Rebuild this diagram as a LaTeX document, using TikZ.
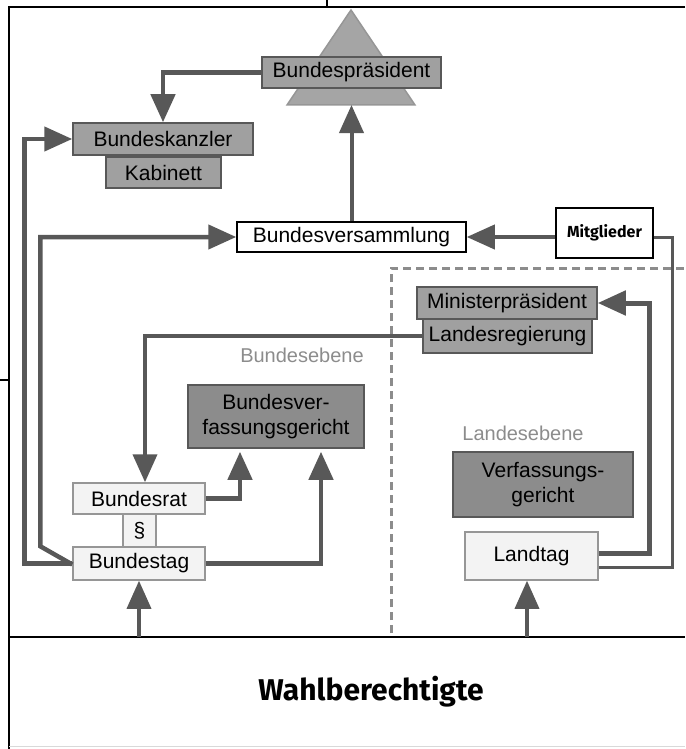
\documentclass[tikz,border=0pt]{standalone}
\usepackage{fontspec}
\setmainfont{Liberation Sans}
\newfontfamily\fira{Fira Sans}
\usetikzlibrary{arrows.meta,positioning,calc}
\definecolor{lineg}{RGB}{88,88,88}
\definecolor{boxg}{RGB}{160,160,160}
\definecolor{courtg}{RGB}{140,140,140}
\definecolor{paleg}{RGB}{243,243,243}
\definecolor{rimg}{RGB}{150,150,150}
\definecolor{levelg}{RGB}{140,140,140}
\definecolor{trig}{RGB}{165,165,165}

\begin{document}
\begin{tikzpicture}[x=1pt,y=-1pt,
    organ/.style={draw=lineg,fill=boxg,line width=1.5pt,inner sep=0pt,
      font=\fontsize{21}{25}\selectfont,align=center},
    court/.style={organ,fill=courtg},
    parl/.style={organ,draw=rimg,fill=paleg},
    plain/.style={organ,draw=black,fill=white},
    arr/.style={draw=lineg,line width=4.5pt,-{Triangle[length=28pt,width=24pt]}},
    link/.style={draw=lineg,line width=3pt},
    level/.style={text=levelg,font=\fontsize{20}{24}\selectfont}]
  \useasboundingbox (0,0) rectangle (685,749);
  % page frame
  \draw[line width=1.5pt] (327,0) -- (327,7);
  \draw[line width=1.5pt] (685,7) -- (9,7) -- (9,749);
  \draw[line width=1.2pt] (0,380) -- (9,380);
  \draw[black!15,line width=1pt] (9,746.5) -- (685,746.5);
  \draw[line width=2pt] (9,637) -- (685,637);
  \coordinate (wtop) at (0,637);
  % Bund / Land divider
  \draw[levelg,line width=3pt,dash pattern=on 8pt off 5pt] (391,633) -- (391,268) -- (685,268);

  % federal level
  \draw[draw=rimg,fill=trig,line width=1.5pt] (351,10) -- (415,105) -- (287,105) -- cycle;
  \coordinate (tribase) at (351.5,105);
  \node[organ,minimum width=179pt,minimum height=31pt] (praes) at (351.5,72.5) {Bundespräsident};
  \node[organ,minimum width=180pt,minimum height=32pt] (kanzler) at (163,139) {Bundeskanzler};
  \node[organ,minimum width=115pt,minimum height=31pt] (kabinett) at (163.5,172.5) {Kabinett};
  \node[plain,minimum width=229pt,minimum height=30pt] (versammlung) at (351.5,237) {Bundesversammlung};
  \node[plain,minimum width=97pt,minimum height=50pt,font=\fira\bfseries\fontsize{16}{19}\selectfont] (mitglieder) at (604.5,233) {Mitglieder};
  \node[level] (bund) at (302,355) {Bundesebene};
  \node[court,minimum width=176pt,minimum height=63pt] (bvg) at (276,416.5) {Bundesver-\\fassungsgericht};
  \node[parl,minimum width=132pt,minimum height=31pt] (brat) at (139,498.5) {Bundesrat};
  \node[parl,minimum width=33pt,minimum height=33pt] (para) at (139.5,530.5) {\S};
  \node[parl,minimum width=132pt,minimum height=33pt] (btag) at (139,563.5) {Bundestag};

  % state level
  \node[organ,minimum width=180pt,minimum height=32pt] (minister) at (507,303) {Ministerpräsident};
  \node[organ,minimum width=169pt,minimum height=34pt] (landesreg) at (507.5,336) {Landesregierung};
  \node[level] (land) at (523,433) {Landesebene};
  \node[court,minimum width=180pt,minimum height=65pt] (vg) at (543,484.5) {Verfassungs-\\gericht};
  \node[parl,minimum width=133pt,minimum height=48pt] (landtag) at (531.5,556) {Landtag};
  \coordinate (ltin) at ([xshift=-4.5pt]landtag.south);

  \node[font=\fira\bfseries\fontsize{30}{34}\selectfont] (wahl) at (371,692) {Wahlberechtigte};

  % connectors
  \draw[arr] (praes.west) -| (kanzler.north);
  \draw[arr,line width=4pt] (versammlung.north) -- (tribase);
  \draw[arr,line width=4pt] (mitglieder.west |- versammlung.east) -- (versammlung.east);
  \draw[link] ([yshift=-11pt]landtag.east) -- ++(74,0) |- (mitglieder.east |- versammlung.east);
  \draw[arr,line width=5pt] ([yshift=3pt]landtag.east) -- ++(51,0) |- (minister.east);
  \draw[arr,line width=4pt] (landesreg.west) -| ([xshift=6pt]brat.north);
  \draw[arr] (btag.west) -- ++(-48,0) |- (kanzler.west);
  \draw[arr] ([yshift=-1pt]btag.west) -- ([xshift=-32pt]btag.north west) |- (versammlung.west);
  \draw[arr] (brat.east) -| ([xshift=-36pt,yshift=-3pt]bvg.south);
  \draw[arr] (btag.east) -| ([xshift=45pt,yshift=-3pt]bvg.south);
  \draw[arr,line width=3.5pt] (btag.south |- wtop) -- (btag.south);
  \draw[arr,line width=3.5pt] (ltin |- wtop) -- (ltin);
\end{tikzpicture}
\end{document}
